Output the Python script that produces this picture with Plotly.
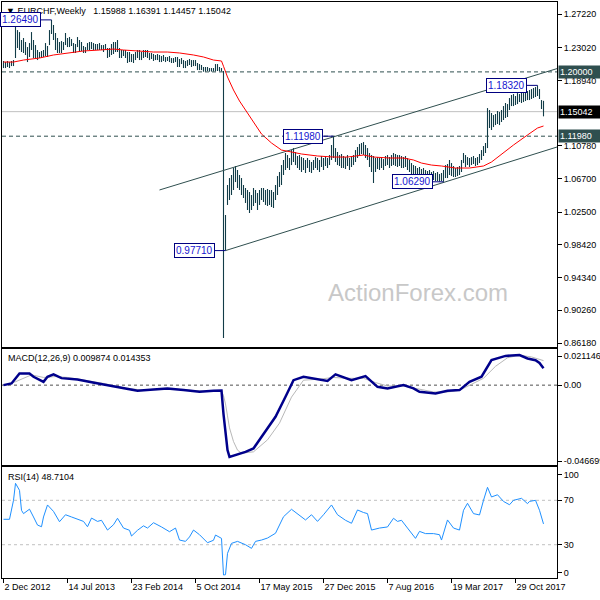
import plotly.graph_objects as go
import pandas as pd

# ---------------- data ----------------
start_date = "2012-12-02"

high = [1.2136, 1.2123, 1.2136, 1.2123, 1.2136, 1.2148, 1.2560, 1.2522, 1.2497, 1.2398,
        1.2423, 1.2373, 1.2310, 1.2360, 1.2497, 1.2398, 1.2335, 1.2273, 1.2248, 1.2261,
        1.2273, 1.2360, 1.2323, 1.2522, 1.2649, 1.2585, 1.2485, 1.2423, 1.2373, 1.2385,
        1.2373, 1.2485, 1.2423, 1.2435, 1.2410, 1.2360, 1.2348, 1.2435, 1.2398, 1.2373,
        1.2323, 1.2310, 1.2360, 1.2373, 1.2373, 1.2360, 1.2348, 1.2348, 1.2360, 1.2335,
        1.2335, 1.2348, 1.2298, 1.2298, 1.2348, 1.2373, 1.2373, 1.2398, 1.2298, 1.2273,
        1.2273, 1.2273, 1.2248, 1.2248, 1.2223, 1.2223, 1.2248, 1.2273, 1.2273, 1.2248,
        1.2273, 1.2273, 1.2273, 1.2236, 1.2236, 1.2223, 1.2211, 1.2223, 1.2211, 1.2198,
        1.2211, 1.2186, 1.2186, 1.2198, 1.2173, 1.2173, 1.2186, 1.2186, 1.2161, 1.2173,
        1.2148, 1.2136, 1.2148, 1.2161, 1.2148, 1.2148, 1.2148, 1.2111, 1.2098, 1.2086,
        1.2061, 1.2061, 1.2061, 1.2048, 1.2048, 1.2048, 1.2098, 1.2098, 1.2061, 1.2048,
        1.2011, 1.0215, 1.0589, 1.0676, 1.0714, 1.0801, 1.0826, 1.0776, 1.0714, 1.0676,
        1.0589, 1.0552, 1.0527, 1.0502, 1.0464, 1.0552, 1.0527, 1.0489, 1.0527, 1.0552,
        1.0552, 1.0527, 1.0539, 1.0527, 1.0527, 1.0502, 1.0589, 1.0701, 1.0751, 1.0838,
        1.0901, 1.0988, 1.0963, 1.0926, 1.1025, 1.1050, 1.1001, 1.0951, 1.0963, 1.0938,
        1.0926, 1.0901, 1.0926, 1.0901, 1.0876, 1.0901, 1.0938, 1.0926, 1.0901, 1.0951,
        1.0926, 1.0951, 1.0926, 1.0963, 1.1088, 1.1198, 1.1050, 1.1001, 1.0963, 1.0976,
        1.0951, 1.0938, 1.0963, 1.0926, 1.0938, 1.0963, 1.1025, 1.1063, 1.1100, 1.1113,
        1.1125, 1.1088, 1.1050, 1.0988, 1.0963, 1.0951, 1.0926, 1.0938, 1.0926, 1.0938,
        1.0913, 1.0951, 1.0963, 1.0938, 1.0963, 1.0988, 1.0976, 1.0963, 1.0963, 1.0951,
        1.0938, 1.0951, 1.0926, 1.0901, 1.0863, 1.0838, 1.0826, 1.0801, 1.0814, 1.0789,
        1.0801, 1.0776, 1.0764, 1.0776, 1.0751, 1.0764, 1.0739, 1.0751, 1.0726, 1.0739,
        1.0776, 1.0838, 1.0851, 1.0901, 1.0863, 1.0826, 1.0801, 1.0814, 1.0826, 1.0901,
        1.0988, 1.0963, 1.0938, 1.0926, 1.0938, 1.0951, 1.0926, 1.0938, 1.0976, 1.1025,
        1.1075, 1.1113, 1.1549, 1.1525, 1.1487, 1.1462, 1.1475, 1.1512, 1.1500, 1.1525,
        1.1574, 1.1612, 1.1599, 1.1674, 1.1712, 1.1724, 1.1699, 1.1736, 1.1724, 1.1749,
        1.1736, 1.1749, 1.1761, 1.1774, 1.1786, 1.1799, 1.1811, 1.1832, 1.1786, 1.1649,
        1.16391]

low = [1.2048, 1.2048, 1.2061, 1.2048, 1.2073, 1.2073, 1.2173, 1.2298, 1.2273, 1.2248,
       1.2236, 1.2211, 1.2123, 1.2186, 1.2273, 1.2173, 1.2173, 1.2148, 1.2173, 1.2173,
       1.2186, 1.2198, 1.2186, 1.2335, 1.2473, 1.2398, 1.2273, 1.2236, 1.2236, 1.2236,
       1.2273, 1.2335, 1.2310, 1.2310, 1.2323, 1.2236, 1.2236, 1.2310, 1.2248, 1.2261,
       1.2236, 1.2236, 1.2273, 1.2273, 1.2285, 1.2273, 1.2273, 1.2273, 1.2273, 1.2273,
       1.2248, 1.2273, 1.2173, 1.2186, 1.2211, 1.2223, 1.2248, 1.2248, 1.2173, 1.2173,
       1.2198, 1.2173, 1.2111, 1.2123, 1.2123, 1.2111, 1.2148, 1.2173, 1.2148, 1.2148,
       1.2173, 1.2186, 1.2173, 1.2148, 1.2161, 1.2136, 1.2148, 1.2148, 1.2123, 1.2123,
       1.2136, 1.2123, 1.2136, 1.2123, 1.2111, 1.2111, 1.2123, 1.2061, 1.2061, 1.2098,
       1.2048, 1.2048, 1.2073, 1.2086, 1.2061, 1.2073, 1.2073, 1.2023, 1.2023, 1.2023,
       1.2002, 1.2002, 1.2011, 1.2003, 1.2004, 1.2005, 1.2006, 1.2011, 1.2008, 1.2005,
       0.8680, 0.9771, 1.0340, 1.0402, 1.0464, 1.0527, 1.0626, 1.0552, 1.0527, 1.0464,
       1.0427, 1.0365, 1.0277, 1.0240, 1.0277, 1.0327, 1.0365, 1.0277, 1.0340, 1.0402,
       1.0377, 1.0340, 1.0327, 1.0340, 1.0315, 1.0302, 1.0402, 1.0464, 1.0564, 1.0589,
       1.0714, 1.0776, 1.0801, 1.0776, 1.0838, 1.0876, 1.0838, 1.0801, 1.0776, 1.0751,
       1.0776, 1.0739, 1.0801, 1.0751, 1.0739, 1.0776, 1.0801, 1.0776, 1.0751, 1.0814,
       1.0776, 1.0826, 1.0801, 1.0838, 1.0901, 1.0926, 1.0876, 1.0838, 1.0826, 1.0801,
       1.0801, 1.0789, 1.0826, 1.0776, 1.0814, 1.0838, 1.0876, 1.0926, 1.0963, 1.0976,
       1.0963, 1.0926, 1.0901, 1.0814, 1.0751, 1.0614, 1.0751, 1.0789, 1.0776, 1.0801,
       1.0776, 1.0826, 1.0838, 1.0801, 1.0826, 1.0838, 1.0826, 1.0814, 1.0826, 1.0801,
       1.0801, 1.0814, 1.0776, 1.0751, 1.0701, 1.0676, 1.0689, 1.0676, 1.0664, 1.0651,
       1.0664, 1.0651, 1.0639, 1.0651, 1.0639, 1.0651, 1.0639, 1.0639, 1.0632, 1.0639,
       1.0629, 1.0676, 1.0676, 1.0714, 1.0701, 1.0689, 1.0689, 1.0701, 1.0714, 1.0751,
       1.0863, 1.0814, 1.0838, 1.0814, 1.0838, 1.0851, 1.0826, 1.0838, 1.0863, 1.0901,
       1.0951, 1.0988, 1.1050, 1.1300, 1.1275, 1.1312, 1.1337, 1.1350, 1.1337, 1.1375,
       1.1400, 1.1425, 1.1437, 1.1525, 1.1574, 1.1574, 1.1587, 1.1599, 1.1624, 1.1612,
       1.1624, 1.1637, 1.1649, 1.1649, 1.1662, 1.1674, 1.1687, 1.1699, 1.1662, 1.1537,
       1.14457]

# moving average (red), read at selected weeks
ma_idx = [0, 5, 10, 18, 25, 32, 40, 48, 55, 60, 66, 75, 82, 88, 95, 100, 105, 109, 110, 112,
          115, 118, 124, 129, 134, 139, 144, 149, 157, 165, 172, 180, 185, 193, 200, 205, 209, 214, 219, 226,
          233, 237, 240, 244, 249, 255, 262, 267, 270]
ma_val = [1.2123, 1.2123, 1.2148, 1.2173, 1.2211, 1.2236, 1.2261, 1.2273, 1.2285, 1.2273,
          1.2261, 1.2248, 1.2248, 1.2236, 1.2211, 1.2186, 1.2148, 1.2136, 1.2070, 1.1936,
          1.1774, 1.1637, 1.1412, 1.1225, 1.1113, 1.1025, 1.1001, 1.0976, 1.0951, 1.0938,
          1.0938, 1.0963, 1.0938, 1.0926, 1.0926, 1.0901, 1.0863, 1.0838, 1.0826, 1.0801,
          1.0801, 1.0814, 1.0826, 1.0876, 1.0976, 1.1088, 1.1213, 1.1300, 1.1325]

# MACD(12,26,9) main line and signal line
macd_idx = [0, 4, 8, 13, 15, 20, 22, 25, 29, 37, 46, 56, 67, 75, 82, 90, 98, 105, 109, 110,
            111, 112, 113, 116, 121, 125, 130, 136, 141, 145, 150, 157, 162, 166, 174, 181, 187, 192, 200, 205,
            208, 216, 222, 228, 233, 239, 244, 251, 258, 262, 266, 268, 270]
macd_val = [0.0, 0.001, 0.0068, 0.0068, 0.0049, 0.0019, 0.0049, 0.0063, 0.0041, 0.0033,
            0.0013, -0.0010, -0.0033, -0.0025, -0.0019, -0.0029, -0.0039, -0.0033, -0.0032, -0.017,
            -0.029, -0.038, -0.042, -0.041, -0.039, -0.037, -0.0283, -0.0185, -0.0068, 0.0029,
            0.0049, 0.0033, 0.0025, 0.0063, 0.0029, 0.0053, -0.0010, -0.0019, 0.0, -0.0019,
            -0.0039, -0.0049, -0.0033, -0.0029, 0.0019, 0.0049, 0.0146, 0.0171, 0.0176, 0.0156,
            0.0146, 0.0130, 0.009874]
sig_idx = [0, 6, 14, 20, 26, 32, 40, 50, 60, 70, 80, 90, 100, 109, 110, 111, 112, 113, 115, 117,
           119, 125, 132, 138, 144, 150, 158, 165, 172, 180, 186, 192, 200, 207, 215, 222, 228, 234, 240, 246,
           252, 258, 264, 270]
sig_val = [0.0, 0.002, 0.006, 0.0045, 0.005, 0.0045, 0.003, 0.001, -0.0015, -0.003,
           -0.0025, -0.0027, -0.0035, -0.0034, -0.0062, -0.011, -0.018, -0.025, -0.033, -0.038,
           -0.0398, -0.039, -0.032, -0.0222, -0.007, 0.0029, 0.0035, 0.0045, 0.004, 0.004,
           0.0015, -0.0005, -0.0005, -0.002, -0.004, -0.004, -0.003, 0.0005, 0.004, 0.011,
           0.016, 0.0175, 0.0165, 0.014353]

# RSI(14)
rsi_idx = [0, 3, 5, 6, 8, 9, 10, 12, 13, 15, 17, 19, 20, 22, 25, 28, 31, 34, 37, 40,
           42, 44, 47, 49, 52, 55, 57, 60, 63, 64, 67, 70, 72, 75, 79, 83, 86, 88, 91, 93,
           95, 98, 102, 105, 106, 109, 110, 111, 112, 114, 117, 121, 124, 126, 129, 132, 136, 140, 144, 147,
           151, 154, 157, 160, 164, 167, 171, 174, 177, 180, 182, 184, 188, 192, 195, 197, 199, 202, 206, 208,
           211, 215, 218, 219, 222, 225, 228, 230, 232, 235, 238, 240, 242, 244, 247, 250, 253, 255, 259, 262,
           263, 266, 268, 270]
rsi_val = [52.9, 52.9, 70, 85.3, 79, 61, 58, 61, 62, 55, 47.7, 46.2, 55, 65.8, 60, 50.7, 57, 55, 53, 51,
           46.2, 54, 51, 52, 43.2, 48, 53.8, 45, 43, 37.8, 43, 47, 45, 49.8, 46, 41.7, 45, 34.2, 33, 37,
           43.2, 39, 31.8, 34, 38.7, 35.7, 2.7, 3, 22.2, 31.2, 33, 30, 26.7, 33, 34.2, 36, 40.3, 55.2, 61.9, 58,
           52.3, 57, 51, 57, 65.8, 57, 52, 49.3, 61.3, 59, 58, 43.2, 45, 46, 53.8, 51, 52, 45, 35.7, 42,
           40, 40, 39, 34.2, 52.3, 45, 43.2, 61, 67.3, 58, 56.8, 70, 81.7, 73, 75, 69, 66, 70, 71.8, 67,
           69, 70, 61, 48.7104]

# channel trend lines (week index, price)
upper_idx = [78, 277]
upper_price = [1.0527, 1.2043]
lower_idx = [111, 277]
lower_price = [0.9771, 1.1065]

# labelled swing points
swing_idx = [24, 111, 165, 220, 267]
swing_price = [1.2649, 0.9771, 1.1198, 1.0629, 1.1832]
swing_text = ["1.26490", "0.97710", "1.11980", "1.06290", "1.18320"]

level_lines = [1.2000, 1.1198]
last_price = 1.15042
header = "\u25bc EURCHF,Weekly\u00a0\u00a0 1.15988 1.16391 1.14457 1.15042"
macd_title = "MACD(12,26,9) 0.009874 0.014353"
rsi_title = "RSI(14) 48.7104"

price_ticks = [1.27220, 1.23020, 1.18940, 1.10780, 1.06700, 1.02500, 0.98420, 0.94340, 0.90260, 0.86180]
rsi_ticks = [93, 70, 30, 5]
rsi_tick_text = ["100", "70", "30", "0"]
x_tick_idx = [0, 32, 64, 96, 128, 160, 192, 224, 256]
x_tick_labels = ["2 Dec 2012", "14 Jul 2013", "23 Feb 2014", "5 Oct 2014", "17 May 2015",
                 "27 Dec 2015", "7 Aug 2016", "19 Mar 2017", "29 Oct 2017"]

# ---------------- figure ----------------
start = pd.Timestamp(start_date)
weeks = pd.date_range(start, periods=len(high), freq="7D")


def wk(i):
    return start + pd.Timedelta(days=7 * i)


BAR_C = "#123c48"
SLATE = "#2f4f4f"
FONT = "Liberation Sans"

fig = go.Figure()

bx, by = [], []
for d, h, l in zip(weeks, high, low):
    bx += [d, d, None]
    by += [h, l, None]
fig.add_trace(go.Scatter(x=bx, y=by, mode="lines", line=dict(color=BAR_C, width=1.1),
                         xaxis="x", yaxis="y", hoverinfo="skip"))

fig.add_trace(go.Scatter(x=[wk(i) for i in upper_idx], y=upper_price, mode="lines",
                         line=dict(color=SLATE, width=1), xaxis="x", yaxis="y", hoverinfo="skip"))
fig.add_trace(go.Scatter(x=[wk(i) for i in lower_idx], y=lower_price, mode="lines",
                         line=dict(color=SLATE, width=1), xaxis="x", yaxis="y", hoverinfo="skip"))

fig.add_trace(go.Scatter(x=[wk(i) for i in ma_idx], y=ma_val, mode="lines",
                         line=dict(color="#ff0000", width=1), xaxis="x", yaxis="y", hoverinfo="skip"))

fig.add_trace(go.Scatter(x=[wk(i) for i in sig_idx], y=sig_val, mode="lines",
                         line=dict(color="#b8b8b8", width=1), xaxis="x2", yaxis="y2", hoverinfo="skip"))
fig.add_trace(go.Scatter(x=[wk(i) for i in macd_idx], y=macd_val, mode="lines",
                         line=dict(color="#00008b", width=2.5), xaxis="x2", yaxis="y2", hoverinfo="skip"))

fig.add_trace(go.Scatter(x=[wk(i) for i in rsi_idx], y=rsi_val, mode="lines",
                         line=dict(color="#1e90ff", width=1), xaxis="x3", yaxis="y3", hoverinfo="skip"))

shapes = []
for lv in level_lines:
    shapes.append(dict(type="line", xref="x domain", yref="y", x0=0, x1=1, y0=lv, y1=lv,
                       line=dict(color=SLATE, width=1, dash="4px,3px")))
shapes.append(dict(type="line", xref="x domain", yref="y", x0=0, x1=1, y0=last_price, y1=last_price,
                   line=dict(color="#c0c0c0", width=1), layer="below"))
shapes.append(dict(type="line", xref="x2 domain", yref="y2", x0=0, x1=1, y0=0, y1=0,
                   line=dict(color="#505050", width=1, dash="3px,3px"), layer="below"))
for lv in (70, 30):
    shapes.append(dict(type="line", xref="x3 domain", yref="y3", x0=0, x1=1, y0=lv, y1=lv,
                       line=dict(color="#c0c0c0", width=1, dash="3px,3px"), layer="below"))

ann = []
ann.append(dict(xref="paper", yref="paper", x=0.0036, y=0.9844, xanchor="left", yanchor="middle",
                text=header, showarrow=False, font=dict(family=FONT, size=9, color="black")))
ann.append(dict(xref="paper", yref="paper", x=0.0072, y=0.3819, xanchor="left", yanchor="middle",
                text=macd_title, showarrow=False, font=dict(family=FONT, size=9, color="black")))
ann.append(dict(xref="paper", yref="paper", x=0.0072, y=0.1753, xanchor="left", yanchor="middle",
                text=rsi_title, showarrow=False, font=dict(family=FONT, size=9, color="black")))
ann.append(dict(xref="paper", yref="paper", x=0.7495, y=0.4965, xanchor="center", yanchor="middle",
                text="ActionForex.com", showarrow=False, font=dict(family=FONT, size=24, color="#c8c8c8")))
for i, p, t in zip(swing_idx, swing_price, swing_text):
    ann.append(dict(x=wk(i), y=p, xref="x", yref="y", text=t, showarrow=True, arrowhead=0,
                    arrowwidth=1, arrowcolor="#000080", ax=-31, ay=0, bgcolor="white",
                    bordercolor="#000080", borderwidth=1, borderpad=1,
                    font=dict(family=FONT, size=10, color="#1515d0")))
for lv, txt, bg in [(1.2000, "1.20000", SLATE), (last_price, "1.15042", "#000000"), (1.1198, "1.11980", SLATE)]:
    ann.append(dict(xref="paper", yref="y", x=1, y=lv, xanchor="left", yanchor="middle", xshift=1,
                    text=txt, showarrow=False, bgcolor=bg, borderpad=1, width=40, align="left",
                    font=dict(family=FONT, size=9, color="white")))

xr = [start - pd.Timedelta(days=5.25), start + pd.Timedelta(days=1937.25)]
axis_common = dict(showgrid=False, zeroline=False, showline=True, mirror=True,
                   linecolor="black", linewidth=1, automargin=False)
tickfont = dict(family=FONT, size=9, color="black")

fig.update_layout(
    template="none",
    width=600, height=600,
    margin=dict(l=2, r=43, t=2, b=22),
    paper_bgcolor="white", plot_bgcolor="white",
    showlegend=False,
    hovermode=False,
    font=dict(family=FONT, size=9, color="black"),
    xaxis=dict(range=xr, anchor="y", showticklabels=False, ticks="", **axis_common),
    xaxis2=dict(range=xr, anchor="y2", showticklabels=False, ticks="", **axis_common),
    xaxis3=dict(range=xr, anchor="y3", tickvals=[wk(i) for i in x_tick_idx], ticktext=x_tick_labels,
                ticks="outside", ticklen=4, tickcolor="black", ticklabelposition="outside right",
                tickfont=tickfont, **axis_common),
    yaxis=dict(domain=[0.4010, 1], range=[0.8568, 1.2872], anchor="x", side="right",
               tickvals=price_ticks, ticktext=[f"{v:.5f}" for v in price_ticks],
               ticks="outside", ticklen=4, tickcolor="black", tickfont=tickfont, **axis_common),
    yaxis2=dict(domain=[0.1962, 0.3976], range=[-0.046699, 0.021146], anchor="x2", side="right",
                tickvals=[0.0170, 0.0, -0.0445], ticktext=["0.021146", "0.00", "-0.046699"],
                ticks="outside", ticklen=4, tickcolor="black", tickfont=tickfont, **axis_common),
    yaxis3=dict(domain=[0, 0.1927], range=[0, 100], anchor="x3", side="right",
                tickvals=rsi_ticks, ticktext=rsi_tick_text,
                ticks="outside", ticklen=4, tickcolor="black", tickfont=tickfont, **axis_common),
    shapes=shapes,
    annotations=ann,
)

fig.write_html("out.html", config={"displayModeBar": False, "staticPlot": True},
               post_script="document.body.style.margin='0';")
